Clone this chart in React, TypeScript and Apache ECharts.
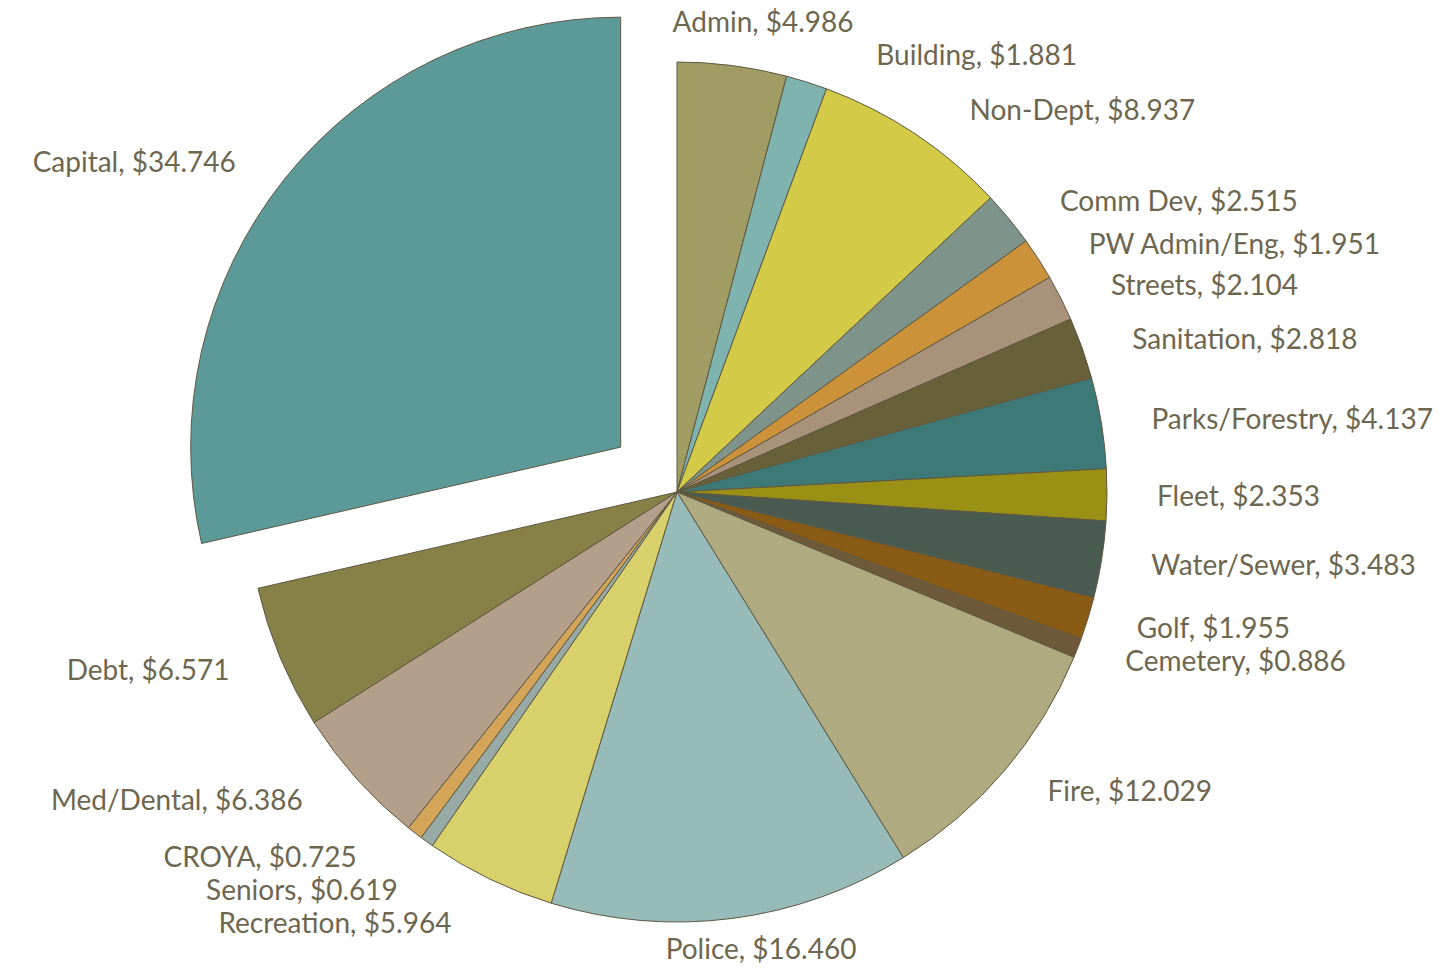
import React, { useEffect, useRef } from "react";
import * as echarts from "echarts";

const categories = [
  "Admin", "Building", "Non-Dept", "Comm Dev", "PW Admin/Eng", "Streets",
  "Sanitation", "Parks/Forestry", "Fleet", "Water/Sewer", "Golf", "Cemetery",
  "Fire", "Police", "Recreation", "Seniors", "CROYA", "Med/Dental", "Debt", "Capital",
];
const values = [
  4.986, 1.881, 8.937, 2.515, 1.951, 2.104,
  2.818, 4.137, 2.353, 3.483, 1.955, 0.886,
  12.029, 16.46, 5.964, 0.619, 0.725, 6.386, 6.571, 34.746,
];
const colors = [
  "#A19C63", "#7FB3B0", "#D3CA48", "#7E938A", "#CB923A", "#A8937A",
  "#686038", "#3D7A77", "#9A9015", "#4A5B52", "#8A5B15", "#6E5A3A",
  "#AFAA7F", "#96BBB9", "#D8D06A", "#98AAA5", "#D4A458", "#B4A08A", "#878148", "#5B9A99",
];
const explodedCategory = "Capital";
// labels pushed a little further out than the default distance
const farLabels: Record<string, number> = { Admin: 45 };

export default function App() {
  const ref = useRef<HTMLDivElement>(null);
  useEffect(() => {
    if (!ref.current) return;
    const chart = echarts.init(ref.current, null, { renderer: "svg" });
    const total = values.reduce((a, b) => a + b, 0);
    const midAngles: number[] = [];
    let acc = 0;
    values.forEach((v) => {
      midAngles.push(((acc + v / 2) / total) * Math.PI * 2);
      acc += v;
    });
    chart.setOption({
      animation: false,
      backgroundColor: "#ffffff",
      series: [
        {
          type: "pie",
          center: [677, 492],
          radius: 430,
          startAngle: 90,
          clockwise: true,
          selectedMode: "single",
          selectedOffset: 72,
          avoidLabelOverlap: true,
          itemStyle: { borderColor: "#5E5842", borderWidth: 1 },
          label: {
            show: true,
            position: "outside",
            formatter: (p: any) => `${p.name}, $${p.value.toFixed(3)}`,
            color: "#6E6750",
            fontFamily: "Lato",
            fontSize: 28,
            lineHeight: 31,
          },
          labelLine: { show: false, length: 30, length2: 20 },
          labelLayout: (p: any) => {
            const a = midAngles[p.dataIndex];
            if (Math.abs(Math.cos(a)) > 0.97) {
              return { align: "center" };
            }
            return {};
          },
          emphasis: { disabled: true },
          data: categories.map((c, i) => ({
            name: c,
            value: values[i],
            selected: c === explodedCategory,
            itemStyle: { color: colors[i] },
            ...(farLabels[c] ? { labelLine: { show: false, length: farLabels[c] } } : {}),
          })),
        },
      ],
    });
    return () => chart.dispose();
  }, []);
  return (
    <div
      ref={ref}
      style={{ position: "fixed", left: 0, top: 0, width: 1450, height: 968 }}
    />
  );
}
